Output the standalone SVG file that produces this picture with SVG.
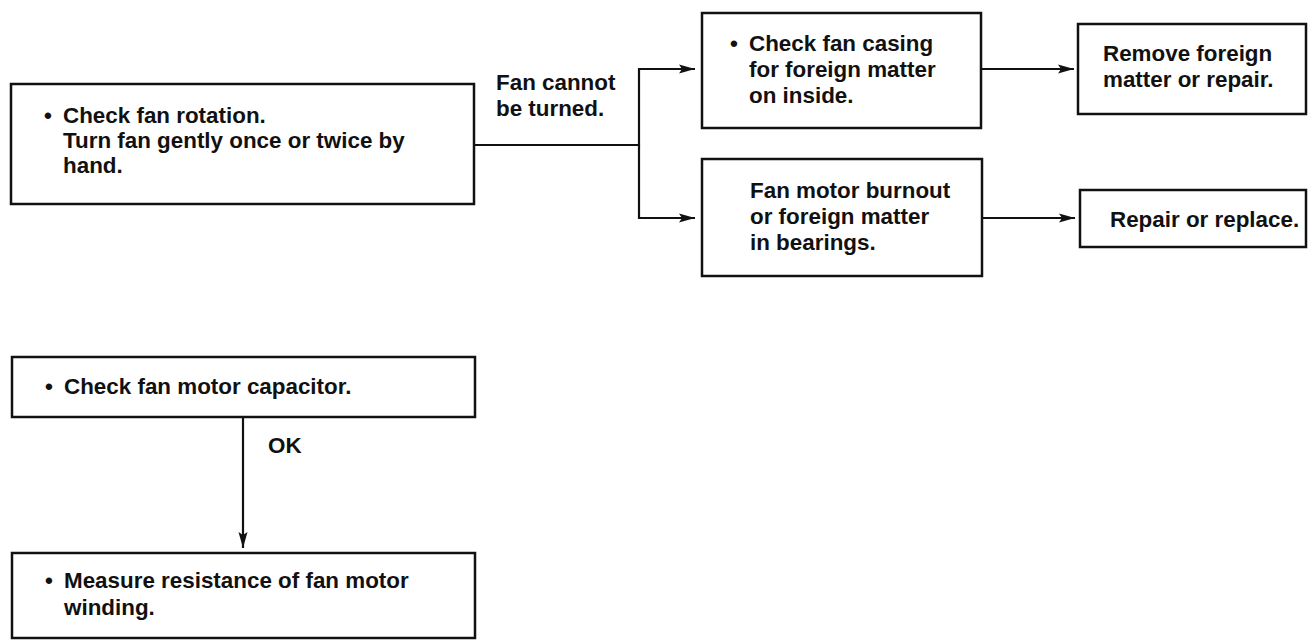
<svg xmlns="http://www.w3.org/2000/svg" width="1309" height="640" viewBox="0 0 1309 640">
<style>
.box{fill:#fff;stroke:#111;stroke-width:2.5}
.t{font-family:"Liberation Sans",Arial,Helvetica,sans-serif;font-weight:bold;font-size:22.4px;fill:#111}
.c{fill:none;stroke:#111;stroke-width:2.2}
</style>
<defs>
<marker id="ah" markerUnits="userSpaceOnUse" markerWidth="16" markerHeight="10" refX="16" refY="5" orient="auto">
<path d="M0,0.5 L16,5 L0,9.5 L3,5 z" fill="#111"/>
</marker>
</defs>
<rect width="1309" height="640" fill="#fff"/>
<g id="connectors">
<polyline class="c" points="474,145 639,145 639,69 695,69" marker-end="url(#ah)"/>
<polyline class="c" points="639,145 639,218 695,218" marker-end="url(#ah)"/>
<line class="c" x1="981" y1="69" x2="1074" y2="69" marker-end="url(#ah)"/>
<line class="c" x1="982" y1="218" x2="1075" y2="218" marker-end="url(#ah)"/>
<line class="c" x1="243" y1="417" x2="243" y2="548" marker-end="url(#ah)"/>
<text class="t" x="496" y="90">Fan cannot</text>
<text class="t" x="496" y="116">be turned.</text>
<text class="t" x="268" y="453">OK</text>
</g>
<g id="check-rotation">
<rect class="box" x="11" y="84" width="463" height="120"/>
<text class="t" y="123"><tspan x="44">•</tspan><tspan x="63">Check fan rotation.</tspan></text>
<text class="t" x="63" y="148">Turn fan gently once or twice by</text>
<text class="t" x="63" y="173">hand.</text>
</g>
<g id="check-casing">
<rect class="box" x="702" y="13" width="279" height="115"/>
<text class="t" y="51"><tspan x="730">•</tspan><tspan x="749">Check fan casing</tspan></text>
<text class="t" x="749" y="77">for foreign matter</text>
<text class="t" x="749" y="103">on inside.</text>
</g>
<g id="motor-burnout">
<rect class="box" x="702" y="159" width="280" height="117"/>
<text class="t" x="750" y="198">Fan motor burnout</text>
<text class="t" x="750" y="224">or foreign matter</text>
<text class="t" x="750" y="250">in bearings.</text>
</g>
<g id="remove-foreign">
<rect class="box" x="1078" y="24" width="228" height="90"/>
<text class="t" x="1103" y="61">Remove foreign</text>
<text class="t" x="1103" y="87">matter or repair.</text>
</g>
<g id="repair-replace">
<rect class="box" x="1080" y="190" width="226" height="57"/>
<text class="t" x="1110" y="227">Repair or replace.</text>
</g>
<g id="check-capacitor">
<rect class="box" x="12" y="357" width="463" height="60"/>
<text class="t" y="394"><tspan x="45">•</tspan><tspan x="64">Check fan motor capacitor.</tspan></text>
</g>
<g id="measure-resistance">
<rect class="box" x="12" y="553" width="463" height="85"/>
<text class="t" y="588"><tspan x="45">•</tspan><tspan x="64">Measure resistance of fan motor</tspan></text>
<text class="t" x="64" y="615">winding.</text>
</g>
</svg>
